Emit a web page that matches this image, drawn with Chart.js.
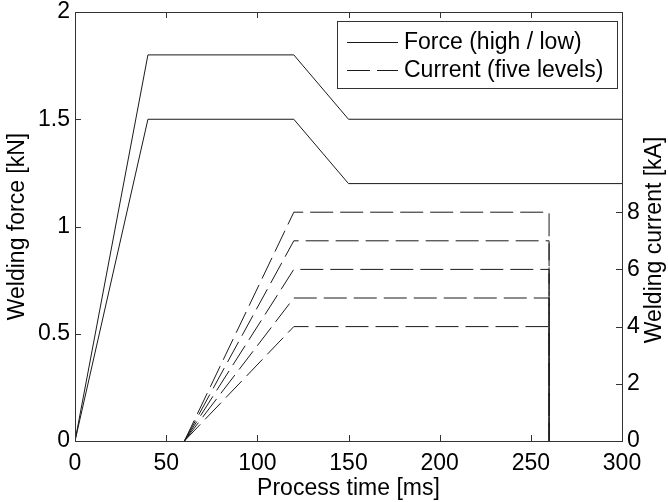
<html lang="en">
<head>
    <meta charset="UTF-8">
    <title>Welding force and current</title>
    <script src="https://cdn.jsdelivr.net/npm/chart.js"></script>
    <style>
        body { margin: 0; background: #fff; }
        #wrap { width: 668px; height: 502px; }
    </style>
</head>
<body>
    <div id="wrap"><canvas id="weldChart" width="668" height="502"></canvas></div>

    <script>
        // force profiles (kN)
        const forceTime = [0, 40, 120, 150, 300];
        const forceHigh = [0, 1.8, 1.8, 1.5, 1.5];
        const forceLow = [0, 1.5, 1.5, 1.2, 1.2];

        // current profiles (kA), five levels
        const currentTime = [60, 120, 260, 260];
        const current8 = [0, 8, 8, 0];
        const current7 = [0, 7, 7, 0];
        const current6 = [0, 6, 6, 0];
        const current5 = [0, 5, 5, 0];
        const current4 = [0, 4, 4, 0];

        const xTicks = [0, 50, 100, 150, 200, 250, 300];
        const forceTicks = [0, 0.5, 1, 1.5, 2];
        const currentTicks = [0, 2, 4, 6, 8];

        const FONT = 'Liberation Sans, Arial, sans-serif';
        const INK = '#1a1a1a';
        const DASH = [23, 7];

        function pts(xs, ys) {
            return xs.map((x, i) => ({ x: x, y: ys[i] }));
        }

        const forceSet = (ys) => ({
            data: pts(forceTime, ys), yAxisID: 'y',
            borderColor: INK, borderWidth: 1, pointRadius: 0, fill: false, tension: 0
        });
        const currentSet = (ys) => ({
            data: pts(currentTime, ys), yAxisID: 'y1',
            borderColor: INK, borderWidth: 1, borderDash: DASH,
            pointRadius: 0, fill: false, tension: 0
        });

        const setTicks = (vals) => (scale) => {
            scale.ticks = vals.map(v => ({ value: v }));
        };

        const framePlugin = {
            id: 'frame',
            afterDraw(chart) {
                const { ctx, chartArea: a, scales } = chart;
                const len = 6;
                ctx.save();
                ctx.strokeStyle = '#333';
                ctx.lineWidth = 1;
                ctx.strokeRect(a.left + 0.5, a.top + 0.5, a.right - a.left, a.bottom - a.top);
                ctx.beginPath();
                xTicks.forEach(v => {
                    const px = Math.round(scales.x.getPixelForValue(v)) + 0.5;
                    ctx.moveTo(px, a.bottom); ctx.lineTo(px, a.bottom - len);
                    ctx.moveTo(px, a.top); ctx.lineTo(px, a.top + len);
                });
                forceTicks.forEach(v => {
                    const py = Math.round(scales.y.getPixelForValue(v)) + 0.5;
                    ctx.moveTo(a.left, py); ctx.lineTo(a.left + len, py);
                });
                currentTicks.forEach(v => {
                    const py = Math.round(scales.y1.getPixelForValue(v)) + 0.5;
                    ctx.moveTo(a.right, py); ctx.lineTo(a.right - len, py);
                });
                ctx.stroke();

                // right axis title, reading bottom to top
                ctx.fillStyle = '#000';
                ctx.font = '23px ' + FONT;
                ctx.textAlign = 'center';
                ctx.textBaseline = 'middle';
                ctx.translate(655, 240);
                ctx.rotate(-Math.PI / 2);
                ctx.fillText('Welding current [kA]', 0, 0);
                ctx.restore();
            }
        };

        const legendPlugin = {
            id: 'boxLegend',
            afterDraw(chart) {
                const { ctx } = chart;
                const box = { x: 337, y: 21, w: 280, h: 67 };
                const rows = [
                    { label: 'Force (high / low)', dash: [] },
                    { label: 'Current (five levels)', dash: DASH }
                ];
                ctx.save();
                ctx.fillStyle = '#fff';
                ctx.fillRect(box.x, box.y, box.w, box.h);
                ctx.strokeStyle = '#333';
                ctx.lineWidth = 1;
                ctx.strokeRect(box.x + 0.5, box.y + 0.5, box.w, box.h);
                ctx.font = '23px ' + FONT;
                ctx.textBaseline = 'middle';
                ctx.textAlign = 'left';
                rows.forEach((r, i) => {
                    const y = Math.round(box.y + 21 + i * 27.5) + 0.5;
                    ctx.beginPath();
                    ctx.setLineDash(r.dash);
                    ctx.strokeStyle = INK;
                    ctx.moveTo(347, y); ctx.lineTo(398, y);
                    ctx.stroke();
                    ctx.setLineDash([]);
                    ctx.fillStyle = '#000';
                    ctx.fillText(r.label, 404, y);
                });
                ctx.restore();
            }
        };

        const tickFont = { family: FONT, size: 23 };

        new Chart(document.getElementById('weldChart'), {
            type: 'line',
            data: {
                datasets: [
                    forceSet(forceHigh),
                    forceSet(forceLow),
                    currentSet(current8),
                    currentSet(current7),
                    currentSet(current6),
                    currentSet(current5),
                    currentSet(current4)
                ]
            },
            options: {
                responsive: false,
                animation: false,
                layout: { padding: { top: 12 } },
                plugins: {
                    legend: { display: false },
                    tooltip: { enabled: false }
                },
                scales: {
                    x: {
                        type: 'linear', min: 0, max: 300,
                        afterBuildTicks: setTicks(xTicks),
                        afterFit(s) { s.height = 61; },
                        grid: { display: false, drawTicks: false },
                        border: { display: false },
                        ticks: { color: '#000', font: tickFont, padding: 9, maxRotation: 0, callback: v => String(v) },
                        title: { display: true, text: 'Process time [ms]', color: '#000', font: tickFont, padding: { top: 0, bottom: 0 } }
                    },
                    y: {
                        type: 'linear', position: 'left', min: 0, max: 2,
                        afterBuildTicks: setTicks(forceTicks),
                        afterFit(s) { s.width = 75; s.paddingTop = 0; s.paddingBottom = 0; },
                        grid: { display: false, drawTicks: false },
                        border: { display: false },
                        ticks: { color: '#000', font: tickFont, padding: 5, callback: v => String(v) },
                        title: { display: true, text: 'Welding force [kN]', color: '#000', font: tickFont, padding: { top: 4, bottom: 0 } }
                    },
                    y1: {
                        type: 'linear', position: 'right', min: 0, max: 15,
                        afterBuildTicks: setTicks(currentTicks),
                        afterFit(s) { s.width = 46; s.paddingTop = 0; s.paddingBottom = 0; },
                        grid: { display: false, drawTicks: false },
                        border: { display: false },
                        ticks: { color: '#000', font: tickFont, padding: 5, callback: v => String(v) }
                    }
                }
            },
            plugins: [framePlugin, legendPlugin]
        });
    </script>
</body>
</html>
